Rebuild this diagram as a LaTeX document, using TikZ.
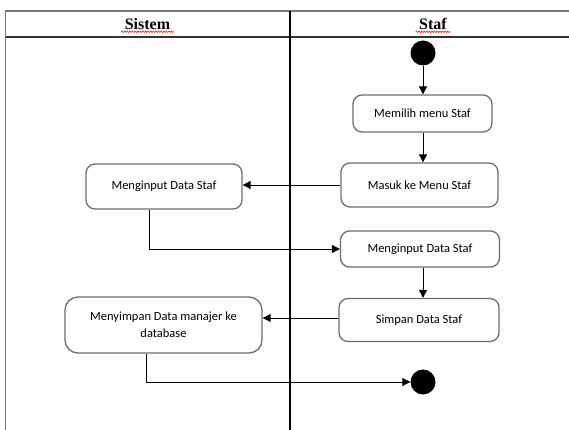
\documentclass[tikz,border=0pt]{standalone}
\usepackage{fontspec}
\setmainfont{Liberation Serif}
\newfontfamily\boxfont{Carlito}
\usetikzlibrary{arrows.meta,decorations.pathmorphing}
\definecolor{boxline}{HTML}{6E6E6E}
\definecolor{frameline}{HTML}{777777}
\tikzset{
  x=1pt, y=-1pt,
  activity/.style={draw=boxline, line width=1.3pt, rounded corners=9pt, align=center,
    font=\boxfont\fontsize{12.5}{17}\selectfont, inner sep=0pt},
  dot/.style={circle, fill=black, draw=none, minimum size=25pt, inner sep=0pt},
  flow/.style={draw=black, line width=0.9pt, -{Triangle[length=8pt,width=8pt]}},
  lane/.style={font=\bfseries\fontsize{16}{18}\selectfont},
  spell/.style={draw=red, line width=0.5pt, decorate,
    decoration={snake, amplitude=0.8pt, segment length=2.6pt}}
}
\begin{document}
\begin{tikzpicture}
\useasboundingbox (0,0) rectangle (569,430);
\fill[white] (0,0) rectangle (569,430);

% swimlane frame
\draw[frameline, line width=1.6pt] (5.5,430) -- (5.5,11) -- (569,11);
\draw[black!80, line width=1.4pt] (5.5,37) -- (569,37);
\draw[black, line width=1.2pt] (290,11) -- (290,430);

% lane headers
\node[lane] (hsistem) at (147.5,24) {Sistem};
\node[lane] (hstaf) at (433,24) {Staf};
\draw[spell] (hsistem.south west) ++(0,-1.5) coordinate (s1) -- (s1 -| hsistem.south east);
\draw[spell] (hstaf.south west) ++(0,-1.5) coordinate (s2) -- (s2 -| hstaf.south east);

% activities
\node[dot] (start) at (423,53) {};
\node[activity, minimum width=139pt, minimum height=37pt] (memilih) at (422.5,113.5) {Memilih menu Staf};
\node[activity, minimum width=157pt, minimum height=44pt] (masuk) at (419.5,185) {Masuk ke Menu Staf};
\node[activity, minimum width=156pt, minimum height=45pt] (inputS) at (164,186.5) {Menginput Data Staf};
\node[activity, minimum width=159pt, minimum height=36pt] (inputF) at (420,249) {Menginput Data Staf};
\node[activity, minimum width=160pt, minimum height=43pt] (simpan) at (419,320) {Simpan Data Staf};
\node[activity, minimum width=197pt, minimum height=56pt, rounded corners=13pt] (menyimpan) at (163.5,325)
  {Menyimpan Data manajer ke\\database};
\node[dot] (final) at (423,382) {};

% transitions
\draw[flow] (start) -- (start |- memilih.north);
\draw[flow] (memilih.south -| start) -- (start |- masuk.north);
\draw[flow] (masuk.west) -- (masuk.west -| inputS.east);
\draw[flow] ([xshift=-15pt]inputS.south) |- (inputF.west);
\draw[flow] (inputF.south -| start) -- (start |- simpan.north);
\draw[flow] ([yshift=2pt]simpan.west) -- ([yshift=2pt]simpan.west -| menyimpan.east);
\draw[flow] ([xshift=-17.5pt]menyimpan.south) |- (final.west);
\end{tikzpicture}
\end{document}
